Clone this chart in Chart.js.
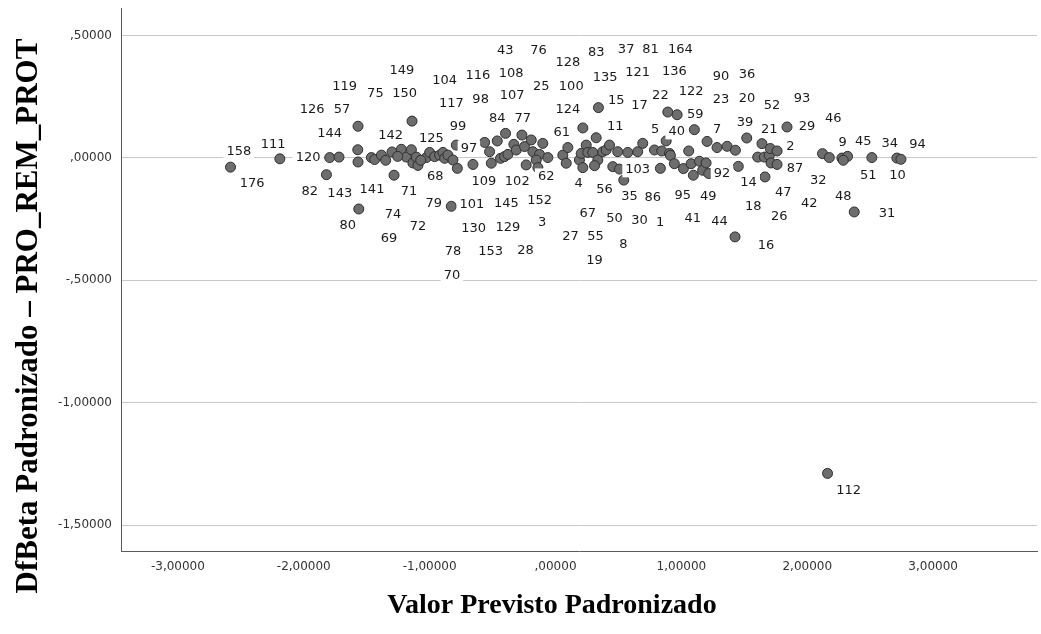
<!DOCTYPE html>
<html><head><meta charset="utf-8">
<script src="https://cdn.jsdelivr.net/npm/chart.js@4.4.1/dist/chart.umd.min.js"></script>
<style>html,body{margin:0;padding:0;background:#fff;}#wrap{width:1041px;height:634px;}</style>
</head><body><div id="wrap"><canvas id="c" width="1041" height="634"></canvas></div>
<script>
// ---- axis ticks ----
const xTickValues = [-3, -2, -1, 0, 1, 2, 3];
const xTickLabels = ["-3,00000", "-2,00000", "-1,00000", ",00000", "1,00000", "2,00000", "3,00000"];
const yTickValues = [0.5, 0, -0.5, -1, -1.5];
const yTickLabels = [",50000", ",00000", "-,50000", "-1,00000", "-1,50000"];
const xTitle = "Valor Previsto Padronizado";
const yTitle = "DfBeta Padronizado \u2013 PRO_REM_PROT";

// ---- observed points (standardized predicted value, standardized DfBeta) ----
const pointX = [-2.582,-2.190,-1.820,-1.794,-1.720,-1.569,-1.571,-1.569,-1.563,-1.463,-1.437,-1.383,-1.299,-1.283,-1.225,-1.185,-1.145,-1.140,-1.133,-1.106,-1.093,-1.026,-1.000,-1.000,-1.349,-1.254,-1.071,
-0.960,-0.921,-0.894,-0.881,-0.855,-0.815,-0.788,-0.780,-0.828,-0.656,-0.563,-0.524,-0.510,-0.463,-0.397,-0.437,-0.405,-0.378,-0.331,-0.312,-0.267,-0.246,-0.193,-0.180,-0.127,-0.101,-0.061,-0.153,-0.233,-0.140,
0.058,0.098,0.085,0.190,0.204,0.244,0.256,0.296,0.323,0.336,0.217,0.310,0.375,0.402,0.429,0.455,0.494,0.508,0.574,0.653,0.693,0.786,0.844,0.905,0.833,0.879,0.542,0.341,0.217,
0.892,0.966,1.103,0.913,0.944,1.016,1.058,1.077,1.095,1.143,1.169,1.196,1.204,1.217,1.283,1.363,1.429,1.452,1.519,1.606,1.640,1.659,1.698,1.706,1.712,1.760,1.760,1.664,1.839,1.426,
2.121,2.175,2.275,2.320,2.286,2.373,2.513,2.712,2.744,2.161];
const pointY = [-0.038,-0.004,-0.069,0.001,0.003,0.129,0.033,-0.017,-0.209,0.001,-0.007,0.011,0.024,-0.071,0.035,0.003,0.033,0.150,-0.021,0.003,-0.031,0.001,0.022,-0.071,-0.010,0.006,-0.010,
0.005,0.011,0.022,-0.002,0.011,-0.009,0.052,-0.043,-0.198,-0.027,0.063,0.025,-0.022,0.069,0.100,-0.002,0.005,0.014,0.055,0.032,0.093,0.046,0.073,0.025,0.014,0.059,0.001,-0.009,-0.029,-0.040,
0.011,0.042,-0.022,-0.009,0.018,0.052,0.022,0.022,0.082,-0.009,-0.040,-0.032,0.025,0.032,0.052,-0.036,0.025,-0.046,0.022,0.025,0.059,0.032,0.028,0.018,-0.043,0.069,-0.091,0.205,0.122,
0.187,0.176,0.115,0.010,-0.024,-0.044,0.028,-0.024,-0.071,-0.014,-0.051,-0.021,0.067,-0.064,0.042,0.047,0.031,-0.035,0.081,0.003,0.058,0.003,0.010,0.038,-0.021,0.028,-0.027,-0.078,0.126,-0.323,
0.017,0.001,-0.001,0.006,-0.010,-0.221,0.001,-0.001,-0.006,-1.289];

// ---- case-number labels and where they sit (data units) ----
const caseIds = ["158","111","120","144","126","57","119","75","150","149","142","125","176","82","143","141","71","74","80","72","69","79",
"43","76","128","83","37","104","116","108","25","100","135","121","117","98","107","124","15","17","84","77","99","61","11","97",
"68","109","102","62","4","56","103","101","145","152","35","67","50","30","130","129","3","27","55","8","78","153","28","19","70",
"81","164","136","90","36","22","122","23","20","52","93","59","46","5","40","7","39","21","29","2","9","45","34","94","51","10","31","48",
"92","87","32","86","95","49","14","47","42","18","26","1","41","44","16","112"];
const caseLabelX = [-2.516,-2.244,-1.966,-1.794,-1.934,-1.696,-1.675,-1.431,-1.198,-1.220,-1.310,-0.987,-2.410,-1.952,-1.714,-1.458,-1.164,-1.291,-1.651,-1.093,-1.323,-0.968,
-0.399,-0.135,0.098,0.323,0.561,-0.881,-0.617,-0.352,-0.113,0.125,0.394,0.653,-0.828,-0.595,-0.344,0.098,0.482,0.667,-0.463,-0.260,-0.775,0.050,0.474,-0.688,
-0.955,-0.569,-0.304,-0.074,0.183,0.389,0.653,-0.664,-0.391,-0.127,0.587,0.256,0.468,0.667,-0.651,-0.379,-0.106,0.119,0.317,0.540,-0.815,-0.516,-0.238,0.310,-0.823,
0.754,0.992,0.944,1.315,1.521,0.833,1.077,1.315,1.521,1.720,1.958,1.111,2.206,0.791,0.963,1.283,1.506,1.698,1.998,1.865,2.280,2.444,2.656,2.875,2.484,2.717,2.633,2.286,
1.323,1.902,2.087,0.772,1.010,1.214,1.534,1.810,2.016,1.571,1.778,0.831,1.090,1.302,1.672,2.328];
const caseLabelY = [0.028,0.058,0.003,0.099,0.197,0.197,0.292,0.264,0.264,0.360,0.092,0.082,-0.105,-0.136,-0.146,-0.126,-0.136,-0.228,-0.276,-0.280,-0.330,-0.183,
0.439,0.439,0.391,0.432,0.446,0.319,0.337,0.344,0.292,0.292,0.330,0.350,0.224,0.238,0.255,0.197,0.235,0.214,0.164,0.164,0.129,0.103,0.129,0.038,
-0.076,-0.096,-0.096,-0.076,-0.105,-0.126,-0.047,-0.191,-0.187,-0.171,-0.157,-0.224,-0.248,-0.255,-0.289,-0.282,-0.262,-0.320,-0.320,-0.353,-0.380,-0.380,-0.375,-0.416,-0.480,
0.446,0.446,0.354,0.334,0.340,0.258,0.271,0.238,0.242,0.217,0.242,0.180,0.164,0.119,0.108,0.119,0.144,0.119,0.129,0.047,0.064,0.067,0.062,0.058,-0.071,-0.071,-0.225,-0.157,
-0.064,-0.044,-0.092,-0.160,-0.153,-0.157,-0.099,-0.140,-0.187,-0.198,-0.239,-0.262,-0.248,-0.258,-0.357,-1.357];

const X_MIN = -3.452, X_MAX = 3.825, Y_MIN = -1.606, Y_MAX = 0.612;

const caseLabelPlugin = {
  id: 'caseLabels',
  afterDatasetsDraw(chart) {
    const ctx = chart.ctx, xs = chart.scales.x, ys = chart.scales.y;
    ctx.save();
    ctx.font = '13px "DejaVu Sans"';
    ctx.textAlign = 'center';
    ctx.textBaseline = 'middle';
    caseIds.forEach((t, i) => {
      const px = xs.getPixelForValue(caseLabelX[i]);
      const py = ys.getPixelForValue(caseLabelY[i]);
      const w = ctx.measureText(t).width;
      ctx.fillStyle = '#ffffff';
      ctx.fillRect(px - w / 2 - 3, py - 8, w + 6, 16);
      ctx.fillStyle = '#1a1a1a';
      ctx.fillText(t, px, py + 0.5);
    });
    ctx.restore();
  }
};

const titlePlugin = {
  id: 'axisTitles',
  afterDraw(chart) {
    const ctx = chart.ctx;
    ctx.save();
    ctx.fillStyle = '#000';
    ctx.textAlign = 'center';
    ctx.textBaseline = 'middle';
    ctx.font = 'bold 28px "Liberation Serif"';
    ctx.fillText(xTitle, 552, 606);
    ctx.translate(29, 316);
    ctx.rotate(-Math.PI / 2);
    ctx.font = 'bold 31px "Liberation Serif"';
    ctx.fillText(yTitle, 0, 0);
    ctx.restore();
  }
};

new Chart(document.getElementById('c'), {
  type: 'scatter',
  data: {
    datasets: [{
      data: pointX.map((x, i) => ({ x: x, y: pointY[i] })),
      pointRadius: 5,
      pointHoverRadius: 5,
      backgroundColor: '#6d6d6d',
      borderColor: '#2e2e2e',
      borderWidth: 1,
      clip: false
    }]
  },
  options: {
    responsive: false,
    animation: false,
    devicePixelRatio: 1,
    layout: { autoPadding: false, padding: { left: 0, right: 4, top: 8, bottom: 0 } },
    plugins: { legend: { display: false }, tooltip: { enabled: false } },
    scales: {
      x: {
        type: 'linear', min: X_MIN, max: X_MAX,
        afterBuildTicks: s => { s.ticks = xTickValues.map(v => ({ value: v })); },
        afterFit: s => { s.height = 83; s.paddingLeft = 0; s.paddingRight = 0; },
        grid: { display: false, drawTicks: false },
        border: { display: true, color: '#5a5a5a', width: 1 },
        ticks: {
          padding: 9, color: '#333', font: { family: 'DejaVu Sans', size: 12 }, maxRotation: 0,
          callback: v => { const k = xTickValues.indexOf(v); return k >= 0 ? xTickLabels[k] : ''; }
        }
      },
      y: {
        type: 'linear', min: Y_MIN, max: Y_MAX,
        afterBuildTicks: s => { s.ticks = yTickValues.map(v => ({ value: v })); },
        afterFit: s => { s.width = 121; s.paddingTop = 0; s.paddingBottom = 0; },
        grid: { display: true, drawTicks: false, color: '#c8c8c8', lineWidth: 1 },
        border: { display: true, color: '#5a5a5a', width: 1 },
        ticks: {
          padding: 9, color: '#333', font: { family: 'DejaVu Sans', size: 12 },
          callback: v => { const k = yTickValues.indexOf(v); return k >= 0 ? yTickLabels[k] : ''; }
        }
      }
    }
  },
  plugins: [caseLabelPlugin, titlePlugin]
});
</script></body></html>
